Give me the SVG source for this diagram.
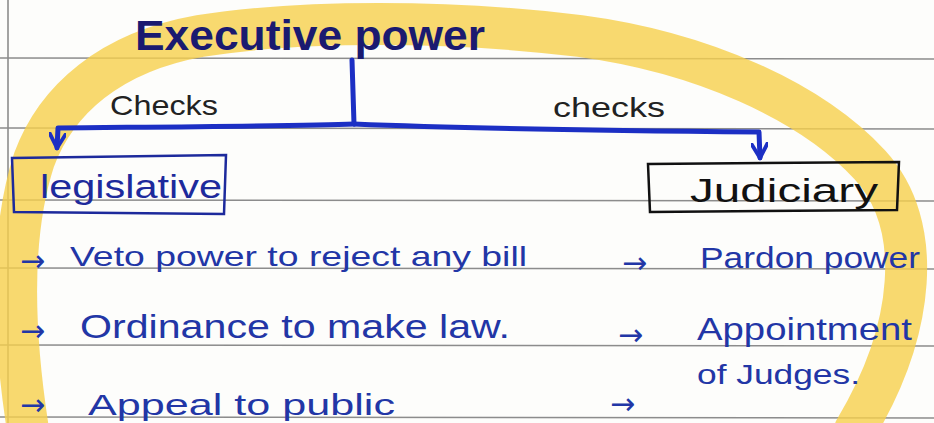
<svg xmlns="http://www.w3.org/2000/svg" width="934" height="423" viewBox="0 0 934 423">
<style>
.rule{stroke:#8c8c8c;stroke-width:1.6;fill:none}
.hl{stroke:#f6d04c;stroke-opacity:0.8;stroke-width:42;fill:none;stroke-linecap:round}
.ink{font-family:"Liberation Sans","DejaVu Sans",sans-serif}
.arr{font-family:"DejaVu Sans",sans-serif;font-size:30px}
.blue{fill:#2236a6}
.dark{fill:#222}
.conn{stroke:#1c2fc4;stroke-width:5;fill:none;stroke-linecap:round;stroke-linejoin:round}
.box{fill:none;stroke-width:2.5}
</style>
<defs>
<marker id="ah" viewBox="0 0 10 10" refX="9" refY="5" markerWidth="3.5" markerHeight="3.5" orient="auto" markerUnits="strokeWidth">
<path d="M1,0.5 L9,5 L1,9.5" fill="none" stroke="#1c2fc4" stroke-width="2.2" stroke-linecap="round"/>
</marker>
</defs>
<rect width="934" height="423" fill="#fdfdfb"/>
<g id="paper">
<line class="rule" x1="0" y1="58" x2="934" y2="59"/>
<line class="rule" x1="0" y1="128" x2="934" y2="129"/>
<line class="rule" x1="0" y1="200" x2="934" y2="201"/>
<line class="rule" x1="0" y1="268" x2="934" y2="269"/>
<line class="rule" x1="0" y1="345" x2="934" y2="346"/>
<line class="rule" x1="0" y1="417" x2="934" y2="418"/>
<line class="rule" x1="8" y1="0" x2="8" y2="423" stroke-width="1"/>
</g>
<path id="highlight" class="hl" d="M28 430 C14 340 8 240 34 160 C56 100 110 52 200 36 C300 20 450 20 580 36 C700 52 810 100 870 165 C925 225 915 330 855 430"/>
<g id="connectors">
<path class="conn" d="M352 60 L354 124"/>
<path class="conn" d="M354 124 C300 126 150 127 58 128 L57 148" marker-end="url(#ah)"/>
<path class="conn" d="M354 124 C450 128 650 131 759 132 L760 158" marker-end="url(#ah)"/>
</g>
<g id="title"><text class="ink" x="135" y="50" font-size="42" font-weight="bold" fill="#1a1a70" textLength="350" lengthAdjust="spacingAndGlyphs">Executive power</text></g>
<g id="label-left"><text class="ink dark" x="110" y="115" font-size="28" textLength="108" lengthAdjust="spacingAndGlyphs">Checks</text></g>
<g id="label-right"><text class="ink dark" x="553" y="117" font-size="28" textLength="112" lengthAdjust="spacingAndGlyphs">checks</text></g>
<g id="legislative">
<path class="box" stroke="#1d2a9c" d="M12 158 L226 155 L224 214 L14 212 Z"/>
<text class="ink" fill="#1d2a9c" x="40" y="198" font-size="34" textLength="182" lengthAdjust="spacingAndGlyphs">legislative</text>
</g>
<g id="judiciary">
<path class="box" stroke="#111" d="M648 164 L899 162 L897 210 L650 212 Z"/>
<text class="ink" fill="#111" x="690" y="202" font-size="34" textLength="188" lengthAdjust="spacingAndGlyphs">Judiciary</text>
</g>
<g id="item-veto"><text class="arr blue" x="20" y="271">→</text><text class="ink blue" x="70" y="266" font-size="28" textLength="457" lengthAdjust="spacingAndGlyphs">Veto power to reject any bill</text></g>
<g id="item-pardon"><text class="arr blue" x="622" y="273">→</text><text class="ink blue" x="700" y="268" font-size="30" textLength="220" lengthAdjust="spacingAndGlyphs">Pardon power</text></g>
<g id="item-ordinance"><text class="arr blue" x="20" y="341">→</text><text class="ink blue" x="80" y="338" font-size="34" textLength="430" lengthAdjust="spacingAndGlyphs">Ordinance to make law.</text></g>
<g id="item-appointment"><text class="arr blue" x="618" y="345">→</text><text class="ink blue" x="697" y="340" font-size="32" textLength="215" lengthAdjust="spacingAndGlyphs">Appointment</text><text class="ink blue" x="697" y="384" font-size="28" textLength="163" lengthAdjust="spacingAndGlyphs">of Judges.</text></g>
<g id="item-appeal"><text class="arr blue" x="20" y="415">→</text><text class="ink blue" x="88" y="415" font-size="30" textLength="307" lengthAdjust="spacingAndGlyphs">Appeal to public</text></g>
<g id="item-empty"><text class="arr blue" x="610" y="414">→</text></g>
</svg>
